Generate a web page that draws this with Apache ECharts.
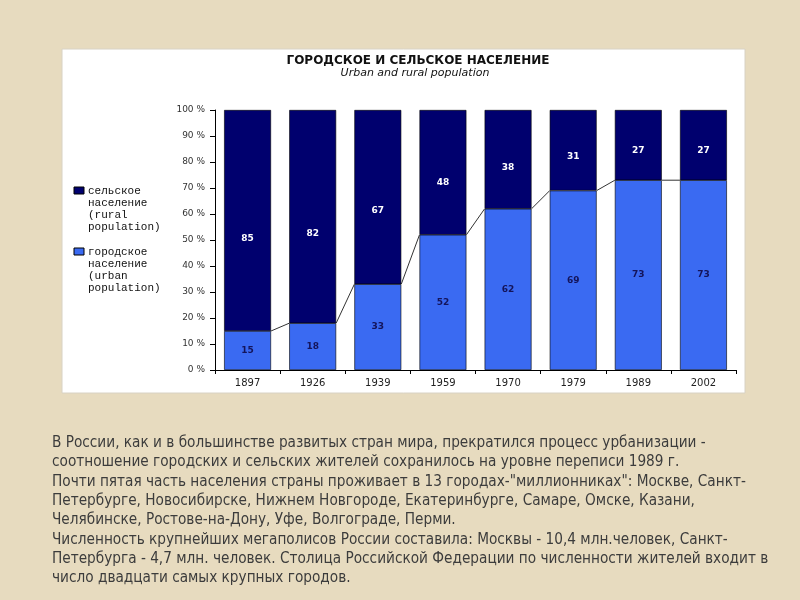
<!DOCTYPE html>
<html><head><meta charset="utf-8">
<script src="https://cdn.jsdelivr.net/npm/echarts@6/dist/echarts.min.js"></script>
<style>html,body{margin:0;padding:0;background:#e7dbbf;}#c{width:800px;height:600px;}</style>
</head><body><div id="c"></div>
<script>
const years = ['1897','1926','1939','1959','1970','1979','1989','2002'];
const urban = [15, 18, 33, 52, 62, 69, 73, 73];
const rural = [85, 82, 67, 48, 38, 31, 27, 27];
const titleText = 'ГОРОДСКОЕ И СЕЛЬСКОЕ НАСЕЛЕНИЕ';
const subtitleText = 'Urban and rural population';
const ruralLegend = ['сельское','население','(rural','population)'];
const urbanLegend = ['городское','население','(urban','population)'];
const paragraph = [
  'В России, как и в большинстве развитых стран мира, прекратился процесс урбанизации -',
  'соотношение городских и сельских жителей сохранилось на уровне переписи 1989 г.',
  'Почти пятая часть населения страны проживает в 13 городах-"миллионниках": Москве, Санкт-',
  'Петербурге, Новосибирске, Нижнем Новгороде, Екатеринбурге, Самаре, Омске, Казани,',
  'Челябинске, Ростове-на-Дону, Уфе, Волгограде, Перми.',
  'Численность крупнейших мегаполисов России составила: Москвы - 10,4 млн.человек, Санкт-',
  'Петербурга - 4,7 млн. человек. Столица Российской Федерации по численности жителей входит в',
  'число двадцати самых крупных городов.'
];

const RURAL_C = '#00006e', URBAN_C = '#3a6af2';
const BAR_FRAC = 0.72;
const connectors = [];
for (let i = 0; i < urban.length - 1; i++) connectors.push([i, urban[i], urban[i+1]]);

const chart = echarts.init(document.getElementById('c'), null, {renderer:'canvas'});
const graphics = [
  {type:'rect', shape:{x:62,y:49,width:683,height:344}, style:{fill:'#ffffff', stroke:'#d8d2c4', lineWidth:1}, z:-10},
  {type:'text', style:{text:titleText, x:418, y:61, align:'center', verticalAlign:'middle', font:'bold 12px "DejaVu Sans", Arial, sans-serif', fill:'#111'}},
  {type:'text', style:{text:subtitleText, x:415, y:73, align:'center', verticalAlign:'middle', font:'italic 11px "DejaVu Sans", Arial, sans-serif', fill:'#111'}},
  {type:'rect', shape:{x:74,y:187,width:10,height:7}, style:{fill:RURAL_C, stroke:'#000', lineWidth:1}},
  {type:'text', style:{text:ruralLegend.join('\n'), x:88, y:185, lineHeight:12, font:'11px "Liberation Mono", monospace', fill:'#111'}},
  {type:'rect', shape:{x:74,y:248,width:10,height:7}, style:{fill:URBAN_C, stroke:'#000', lineWidth:1}},
  {type:'text', style:{text:urbanLegend.join('\n'), x:88, y:246, lineHeight:12, font:'11px "Liberation Mono", monospace', fill:'#111'}}
];
paragraph.forEach((ln, i) => {
  graphics.push({type:'text', x:52, y:443 + i*19.3, scaleX:0.95,
    style:{text:ln, x:0, y:0, verticalAlign:'middle', font:'16px "DejaVu Sans Condensed", sans-serif', fill:'#3c3c3c'}});
});

chart.setOption({
  animation:false,
  backgroundColor:'#e7dbbf',
  graphic: graphics,
  grid:{left:215, right:64, top:110, bottom:230},
  xAxis:{type:'category', data:years,
    axisLine:{lineStyle:{color:'#000', width:1}},
    axisTick:{show:true, length:4, lineStyle:{color:'#000'}},
    axisLabel:{color:'#222', fontSize:10, fontFamily:'DejaVu Sans', margin:8}
  },
  yAxis:{type:'value', min:0, max:100, interval:10,
    axisLine:{show:true, lineStyle:{color:'#000'}},
    axisTick:{show:true, length:5, lineStyle:{color:'#000'}},
    splitLine:{show:false},
    axisLabel:{color:'#333', fontSize:9, fontFamily:'DejaVu Sans', margin:10, formatter:'{value} %'}
  },
  series:[
    {name:'городское', type:'bar', stack:'t', data:urban, barWidth:(BAR_FRAC*100)+'%',
      itemStyle:{color:URBAN_C, borderColor:'#000', borderWidth:0.6},
      label:{show:true, position:'inside', color:'#14145a', fontSize:9, fontWeight:'bold', fontFamily:'DejaVu Sans'}},
    {name:'сельское', type:'bar', stack:'t', data:rural, barWidth:(BAR_FRAC*100)+'%',
      itemStyle:{color:RURAL_C, borderColor:'#000', borderWidth:0.6},
      label:{show:true, position:['50%','58%'], align:'center', verticalAlign:'middle', color:'#fff', fontSize:9, fontWeight:'bold', fontFamily:'DejaVu Sans'}},
    {type:'custom', data:connectors, encode:{x:0, y:1}, z:5,
      renderItem:function(params, api){
        const i = api.value(0);
        const p1 = api.coord([i, api.value(1)]);
        const p2 = api.coord([i+1, api.value(2)]);
        const half = api.size([1,0])[0]*BAR_FRAC/2;
        return {type:'line', shape:{x1:p1[0]+half, y1:p1[1], x2:p2[0]-half, y2:p2[1]}, style:{stroke:'#333', lineWidth:1}};
      }}
  ]
});
</script></body></html>
